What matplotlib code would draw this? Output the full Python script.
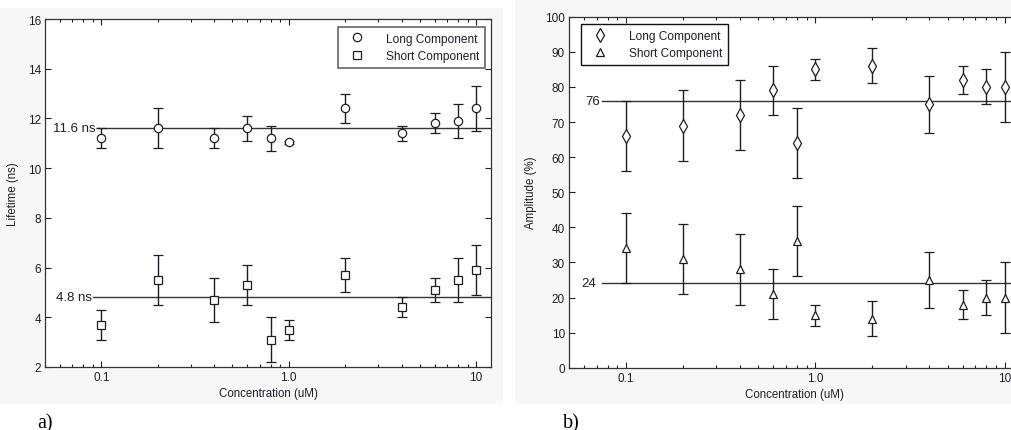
import matplotlib
matplotlib.use("Agg")
import matplotlib.pyplot as plt
from matplotlib.patches import Rectangle
from matplotlib.lines import Line2D
from matplotlib.ticker import FixedLocator, FixedFormatter, NullFormatter, LogLocator

plt.rcParams['font.family'] = ['Liberation Sans', 'DejaVu Sans']

# Concentrations (uM)
conc = [0.1, 0.2, 0.4, 0.6, 0.8, 1.0, 2.0, 4.0, 6.0, 8.0, 10.0]

# a) fluorescence lifetimes (ns)
life_long = [11.2, 11.6, 11.2, 11.6, 11.2, 11.04, 12.4, 11.4, 11.8, 11.9, 12.4]
life_long_err = [0.4, 0.8, 0.4, 0.5, 0.5, 0.07, 0.6, 0.3, 0.4, 0.7, 0.9]
life_short = [3.7, 5.5, 4.7, 5.3, 3.1, 3.5, 5.7, 4.4, 5.1, 5.5, 5.9]
life_short_err = [0.6, 1.0, 0.9, 0.8, 0.9, 0.4, 0.7, 0.4, 0.5, 0.9, 1.0]
life_long_mean = 11.6
life_short_mean = 4.8

# b) relative amplitudes (%)
amp_long = [66, 69, 72, 79, 64, 85, 86, 75, 82, 80, 80]
amp_long_err = [10, 10, 10, 7, 10, 3, 5, 8, 4, 5, 10]
amp_short = [34, 31, 28, 21, 36, 15, 14, 25, 18, 20, 20]
amp_short_err = [10, 10, 10, 7, 10, 3, 5, 8, 4, 5, 10]
amp_long_mean = 76
amp_short_mean = 24

x_ticks = [0.1, 1.0, 10]
x_tick_labels = ['0.1', '1.0', '10']

W, H = 1011, 431
fig = plt.figure(figsize=(W / 100, H / 100), dpi=100)
fig.patch.set_facecolor('white')

# light panel backgrounds
fig.add_artist(Rectangle((0, (H - 405) / H), 503 / W, 396 / H,
                         transform=fig.transFigure, color='#f7f7f7', zorder=0, lw=0))
fig.add_artist(Rectangle((515 / W, (H - 405) / H), (W - 515) / W, 405 / H,
                         transform=fig.transFigure, color='#f7f7f7', zorder=0, lw=0))

ink = '#1e1e28'
ax1 = fig.add_axes([45 / W, (H - 368) / H, 446 / W, 348 / H])
ax2 = fig.add_axes([569 / W, (H - 368.7) / H, 450.7 / W, 351 / H])

err_kw = dict(linestyle='none', mfc='white', mec=ink, ecolor=ink,
              elinewidth=1.0, capsize=3.8, capthick=1.0, mew=0.9, zorder=3)


def style_axis(ax, ylim, yticks):
    ax.set_xscale('log')
    ax.set_xlim(0.05, 12)
    ax.set_ylim(*ylim)
    ax.set_yticks(yticks)
    ax.xaxis.set_major_locator(FixedLocator(x_ticks))
    ax.xaxis.set_major_formatter(FixedFormatter(x_tick_labels))
    ax.xaxis.set_minor_locator(LogLocator(base=10, subs=range(2, 10)))
    ax.xaxis.set_minor_formatter(NullFormatter())
    ax.tick_params(which='both', direction='in', top=True, right=True,
                   labelsize=8.5, colors=ink, width=0.8)
    ax.tick_params(which='major', length=4, pad=3)
    ax.tick_params(which='minor', length=2.5)
    ax.set_facecolor('white')
    for s in ax.spines.values():
        s.set_color('#333333')
        s.set_linewidth(0.9)
    ax.set_xlabel('Concentration (uM)', fontsize=8.3, color=ink, labelpad=3)


def marker_legend(ax, markers, sizes, labels, edge, lw, **kw):
    handles = [Line2D([], [], linestyle='none', marker=m, ms=s, mfc='white',
                      mec=ink, mew=0.9) for m, s in zip(markers, sizes)]
    leg = ax.legend(handles, labels, fontsize=8.6, frameon=True, fancybox=False,
                    borderpad=0.5, handletextpad=1.3, labelspacing=0.45,
                    handlelength=2.2, borderaxespad=0, framealpha=1, **kw)
    leg.get_frame().set_edgecolor(edge)
    leg.get_frame().set_linewidth(lw)
    for t in leg.get_texts():
        t.set_color(ink)
    return leg


# ---- a) lifetimes ----
style_axis(ax1, (2, 16), [2, 4, 6, 8, 10, 12, 14, 16])
ax1.set_ylabel('Lifetime (ns)', fontsize=8.3, color=ink, labelpad=6)
ax1.errorbar(conc, life_long, yerr=life_long_err, marker='o', ms=6.0, **err_kw)
ax1.errorbar(conc, life_short, yerr=life_short_err, marker='s', ms=6.0, **err_kw)
ax1.axhline(life_long_mean, xmin=0.117, color='#333333', lw=1.0, zorder=2)
ax1.axhline(life_short_mean, xmin=0.108, color='#333333', lw=1.0, zorder=2)
ax1.text(0.114, life_long_mean, f'{life_long_mean} ns', transform=ax1.get_yaxis_transform(),
         ha='right', va='center', fontsize=9.5, color=ink)
ax1.text(0.105, life_short_mean, f'{life_short_mean} ns', transform=ax1.get_yaxis_transform(),
         ha='right', va='center', fontsize=9.5, color=ink)
marker_legend(ax1, ['o', 's'], [6.0, 6.0], ['Long Component', 'Short Component'],
              '#666666', 1.2, loc='upper right', bbox_to_anchor=(0.987, 0.978))

# ---- b) amplitudes ----
style_axis(ax2, (0, 100), list(range(0, 101, 10)))
ax2.set_ylabel('Amplitude (%)', fontsize=8.3, color=ink, labelpad=6)
ax2.errorbar(conc, amp_long, yerr=amp_long_err, marker='d', ms=7.0, **err_kw)
ax2.errorbar(conc, amp_short, yerr=amp_short_err, marker='^', ms=5.8, **err_kw)
ax2.axhline(amp_long_mean, xmin=0.073, color='#333333', lw=1.0, zorder=2)
ax2.axhline(amp_short_mean, xmin=0.073, color='#333333', lw=1.0, zorder=2)
ax2.text(0.068, amp_long_mean, f'{amp_long_mean}', transform=ax2.get_yaxis_transform(),
         ha='right', va='center', fontsize=9.5, color=ink)
ax2.text(0.061, amp_short_mean, f'{amp_short_mean}', transform=ax2.get_yaxis_transform(),
         ha='right', va='center', fontsize=9.5, color=ink)
marker_legend(ax2, ['d', '^'], [7.0, 5.8], ['Long Component', 'Short Component'],
              '#111111', 1.0, loc='upper left', bbox_to_anchor=(0.027, 0.979))

# panel letters
fig.text(37 / W, 1 - 428 / H, 'a)', fontsize=14.5, family=['Liberation Serif', 'DejaVu Serif'],
         ha='left', va='baseline', color='black')
fig.text(563 / W, 1 - 428 / H, 'b)', fontsize=14.5, family=['Liberation Serif', 'DejaVu Serif'],
         ha='left', va='baseline', color='black')

fig.savefig('out.png', dpi=100)
